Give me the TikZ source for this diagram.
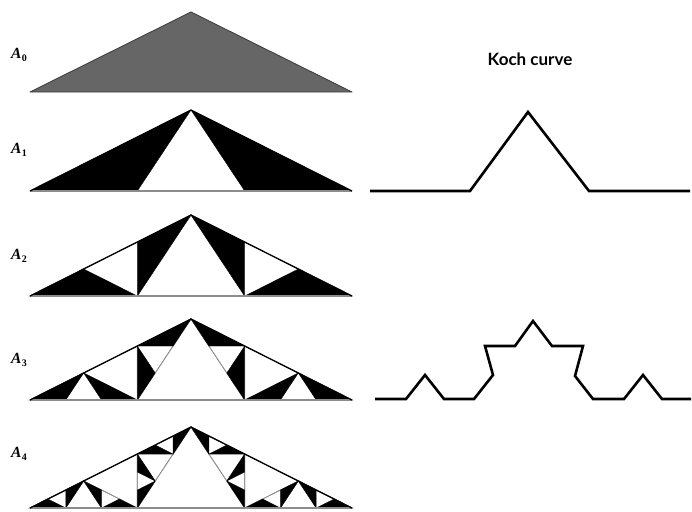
\documentclass[tikz,border=0pt]{standalone}
\usepackage{fontspec}
\setmainfont{Liberation Serif}
\newfontfamily\labfont{Lato}
\newcommand\ktri[8]{%
  \ifnum#1=0
    \path[#2] (#3,#4)--(#5,#6)--(#7,#8)--cycle;
  \else
    \begingroup
    \pgfmathsetmacro\ktUx{#3+(#5-#3)/3}%
    \pgfmathsetmacro\ktUy{#4+(#6-#4)/3}%
    \pgfmathsetmacro\ktVx{#3+2*(#5-#3)/3}%
    \pgfmathsetmacro\ktVy{#4+2*(#6-#4)/3}%
    \pgfmathtruncatemacro\ktN{#1-1}%
    \edef\ktcall{\noexpand\ktri{\ktN}{\unexpanded{#2}}{#3}{#4}{#7}{#8}{\ktUx}{\ktUy}}\ktcall
    \edef\ktcall{\noexpand\ktri{\ktN}{\unexpanded{#2}}{#7}{#8}{#5}{#6}{\ktVx}{\ktVy}}\ktcall
    \endgroup
  \fi}
% #1 level, #2 base y
\newcommand\ktset[2]{%
  \pgfmathsetmacro\ktApex{#2-81}%
  \ifnum#1>1
    \foreach \kk in {1,...,\numexpr#1-1\relax}{%
      \edef\ktcall{\noexpand\ktri{\kk}{grayline}{30}{#2}{352}{#2}{191}{\ktApex}}\ktcall}%
  \fi
  \edef\ktcall{\noexpand\ktri{#1}{blackfill}{30}{#2}{352}{#2}{191}{\ktApex}}\ktcall
  \draw[grayline, line width=1.3pt] (30,#2) -- (352,#2);
  \draw[outer] (30,#2) -- (191,\ktApex) -- (352,#2);
}
\newcommand\Alab[1]{A\kern0.2pt\raisebox{-0.4ex}{\upshape\fontsize{10}{10}\selectfont #1}}
\begin{document}
\begin{tikzpicture}[x=1pt,y=-1pt,
  grayline/.style={draw=black!45, line width=0.7pt},
  blackfill/.style={fill=black, draw=black, line width=0.3pt, line join=round},
  outer/.style={draw=black, line width=1.3pt, line join=round},
  koch/.style={draw=black, line width=2.6pt, line join=miter},
  lab/.style={font=\fontsize{15.5}{15.5}\selectfont\bfseries\itshape, inner sep=0pt}]
\useasboundingbox (0,0) rectangle (692,511);
% A0
\path[fill=black!60, draw=black!75, line width=0.9pt, line join=round] (30,92) -- (191,12) -- (352,92) -- cycle;
\ktset{1}{191}
\ktset{2}{296}
\ktset{3}{400}
\ktset{4}{508}
% labels
\node[lab] (a0) at (19,55) {\Alab{0}};
\node[lab] (a1) at (19,150) {\Alab{1}};
\node[lab] (a2) at (19,256) {\Alab{2}};
\node[lab] (a3) at (19,360) {\Alab{3}};
\node[lab] (a4) at (19,454) {\Alab{4}};
\node[font=\labfont\fontsize{17}{17}\selectfont\bfseries] (kt) at (530,59) {Koch curve};
% Koch curve level 1
\draw[koch] (370,191) -- (470,191) -- (528,112) -- (589,191) -- (690,191);
% Koch curve level 2
\draw[koch] (375,399) -- (406,399) -- (425,375) -- (444,399) -- (474,399)
  -- (493,375) -- (485,346) -- (515,346) -- (533,321) -- (552,346) -- (583,346)
  -- (575,376) -- (593,399) -- (624,399) -- (643,375) -- (662,399) -- (691,399);
\end{tikzpicture}
\end{document}
